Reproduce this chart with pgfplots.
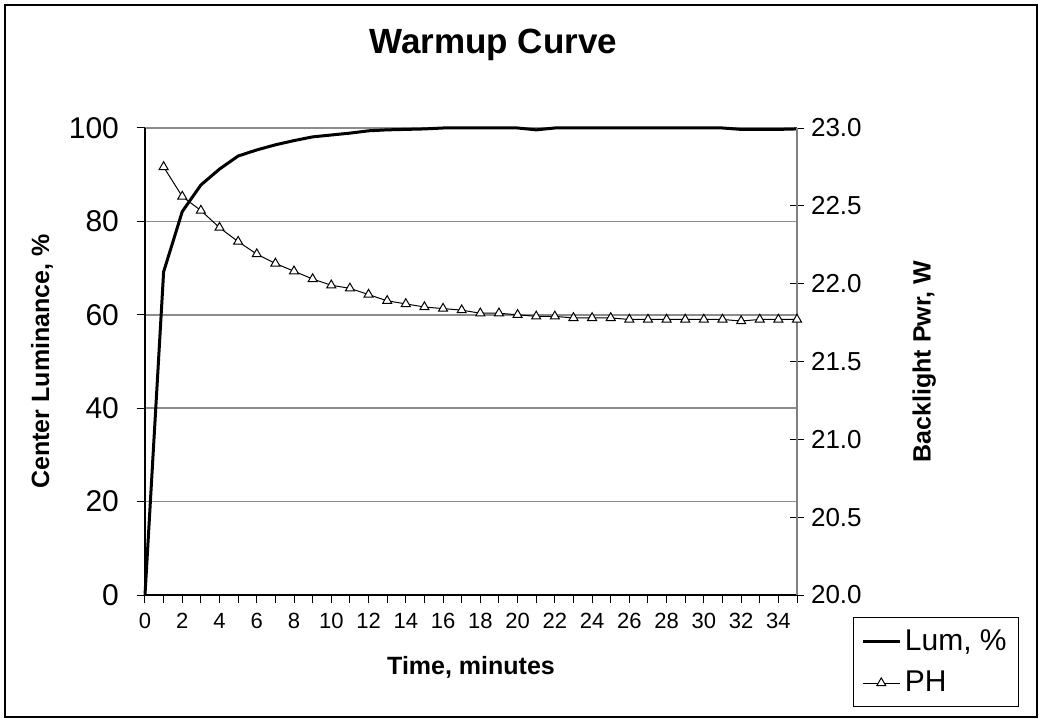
\documentclass[border=0pt]{standalone}
\usepackage{pgfplots}
\pgfplotsset{compat=1.18}
\usepackage{fontspec}
\setmainfont{Liberation Sans}

\pgfplotsset{
  /pgf/number format/assume math mode=true,
  every axis/.append style={scale only axis, width=326pt, height=233.5pt,
    xmin=0, xmax=35, clip=false},
}

\begin{document}
\begin{tikzpicture}
\useasboundingbox (-72.5pt,-63.5pt) rectangle (448.5pt,297.5pt);
\draw[line width=1.1pt] (-70pt,-61pt) rectangle (446pt,295pt);

% left axis: luminance
\begin{axis}[
  ymin=0, ymax=100,
  axis x line*=bottom, axis y line*=left,
  axis line style={black, line width=0.6pt},
  xtick={0,2,...,34}, minor xtick={1,3,...,35},
  ytick={0,20,...,100},
  ymajorgrids, grid style={gray!90, line width=0.8pt},
  tick style={black, line width=0.5pt},
  tick align=outside, major tick length=4pt, minor tick length=4pt,
  xticklabel style={font=\fontsize{11}{13}\selectfont, yshift=-1.5pt},
  yticklabel style={font=\fontsize{15}{17}\selectfont, xshift=-5.5pt},
  title={Warmup Curve},
  title style={font=\bfseries\fontsize{17.5}{20}\selectfont, at={(axis description cs:0.534,1.178)}, anchor=center, yshift=-6pt},
  xlabel={Time, minutes},
  xlabel style={font=\bfseries\fontsize{12.5}{15}\selectfont, at={(axis description cs:0.5,-0.156)}, anchor=center},
  ylabel={Center Luminance, \%},
  ylabel style={font=\bfseries\fontsize{12.5}{15}\selectfont, at={(axis description cs:-0.158,0.5)}, anchor=center},
]
% Lum, %
\addplot[black, line width=1.5pt, line join=round, mark=none] coordinates {
(0,0) (1,69.2) (2,82.1) (3,87.8) (4,91.2) (5,94.0) (6,95.3) (7,96.4)
(8,97.3) (9,98.1) (10,98.5) (11,98.9) (12,99.4) (13,99.6) (14,99.7)
(15,99.8) (16,100) (17,100) (18,100) (19,100) (20,100) (21,99.6)
(22,100) (23,100) (24,100) (25,100) (26,100) (27,100) (28,100)
(29,100) (30,100) (31,100) (32,99.7) (33,99.7) (34,99.7) (35,99.8)
};
\end{axis}

% right axis: backlight power
\begin{axis}[
  ymin=20, ymax=23,
  axis x line=none, axis y line*=right,
  axis line style={gray, line width=0.8pt},
  ytick={20,20.5,21,21.5,22,22.5,23},
  tick style={black, line width=0.5pt},
  tick align=center, major tick length=7pt,
  yticklabel style={font=\fontsize{13}{15}\selectfont,
    /pgf/number format/.cd, fixed, fixed zerofill, precision=1},
  ylabel={Backlight Pwr, W},
  ylabel style={font=\bfseries\fontsize{12.5}{15}\selectfont, at={(axis description cs:1.195,0.5)}, anchor=center},
  legend style={at={(axis description cs:1.086,-0.047)}, anchor=north west,
    draw=black, line width=0.5pt, font=\fontsize{15}{18}\selectfont,
    inner xsep=4pt, inner ysep=4pt, row sep=5pt, cells={anchor=west}},
  legend image code/.code={\draw[mark repeat=2, mark phase=2, #1]
    plot coordinates {(0pt,0pt) (9.25pt,0pt) (18.5pt,0pt)};},
]
\addlegendimage{black, line width=1.2pt}
\addlegendentry{Lum, \%}
% PH
\addplot[black, line width=0.5pt, mark=triangle*, mark size=2.6pt,
  mark options={fill=white, draw=black, line width=0.5pt}] coordinates {
(1,22.75) (2,22.56) (3,22.47) (4,22.36) (5,22.27) (6,22.19) (7,22.13)
(8,22.08) (9,22.03) (10,21.99) (11,21.97) (12,21.93) (13,21.89) (14,21.87)
(15,21.85) (16,21.84) (17,21.83) (18,21.81) (19,21.81) (20,21.80) (21,21.79)
(22,21.79) (23,21.78) (24,21.78) (25,21.78) (26,21.77) (27,21.77) (28,21.77)
(29,21.77) (30,21.77) (31,21.77) (32,21.76) (33,21.77) (34,21.77) (35,21.77)
};
\addlegendentry{PH}
\end{axis}
\end{tikzpicture}
\end{document}
